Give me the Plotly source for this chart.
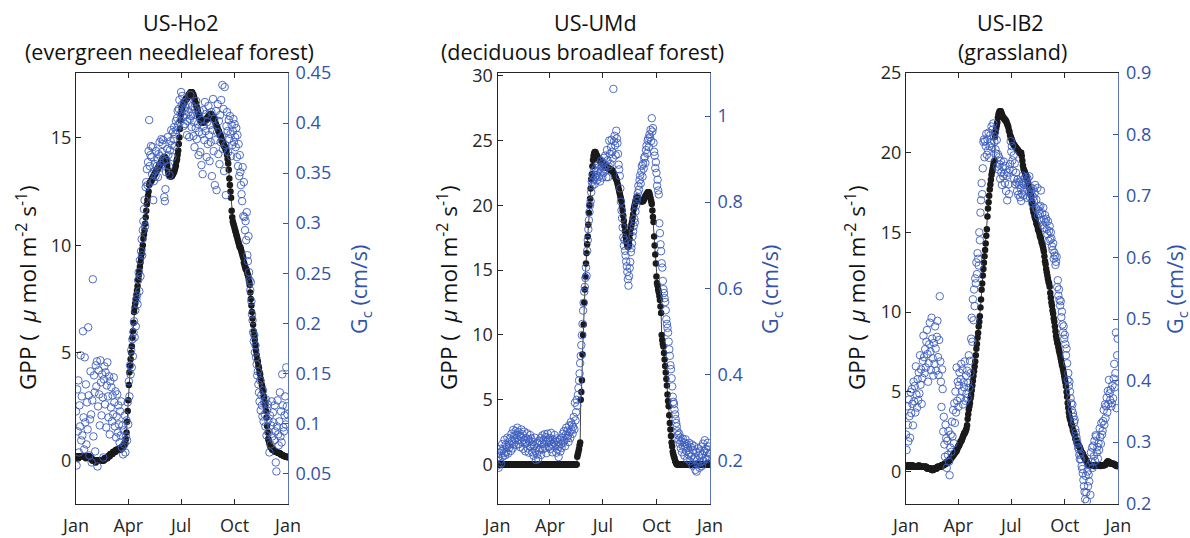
import plotly.graph_objects as go

# ---------------- data (day of year 0..364) ----------------
MONTH_TICKS = [0, 90, 181, 273, 365]
MONTH_LABELS = ["Jan", "Apr", "Jul", "Oct", "Jan"]

SITE_NAMES = ["US-Ho2", "US-UMd", "US-IB2"]
SITE_TYPES = ["(evergreen needleleaf forest)", "(deciduous broadleaf forest)", "(grassland)"]

gpp_ho2 = [
    0.2,0.2,0.2,0.1,0.1,0.2,0.2,0.2,0.2,0.2,
    0.2,0.2,0.2,0.2,0.2,0.2,0.2,0.1,0.2,0.2,
    0.2,0.2,0.2,0.2,0.1,0.1,0.1,0.1,0.0,0.0,
    0.0,0.0,0.0,0.0,-0.1,0.0,0.0,0.0,0.0,0.0,
    0.0,0.0,0.0,0.0,0.0,0.0,0.0,0.0,0.0,0.1,
    0.1,0.1,0.1,0.1,0.1,0.2,0.2,0.2,0.2,0.3,
    0.3,0.3,0.3,0.3,0.4,0.4,0.4,0.4,0.4,0.5,
    0.5,0.5,0.5,0.5,0.5,0.5,0.5,0.5,0.6,0.6,
    0.6,0.6,0.7,0.7,0.8,0.8,1.0,1.3,1.8,2.3,
    2.8,3.5,4.1,4.4,4.7,5.0,5.3,5.7,6.0,6.4,
    6.9,7.1,7.3,7.5,7.7,7.9,8.1,8.4,8.6,8.8,
    9.0,9.2,9.4,9.6,9.8,10.0,10.3,10.5,10.7,11.0,
    11.3,11.6,11.9,12.1,12.3,12.5,12.8,12.9,12.9,13.0,
    13.0,13.1,13.1,13.2,13.2,13.3,13.3,13.4,13.4,13.5,
    13.5,13.6,13.6,13.7,13.7,13.8,13.8,13.9,13.9,14.0,
    14.0,14.0,14.1,14.1,14.0,14.0,13.9,13.7,13.5,13.4,
    13.3,13.2,13.2,13.2,13.2,13.2,13.3,13.3,13.4,13.4,
    13.5,13.6,13.7,13.9,14.0,14.2,14.4,14.7,15.0,15.4,
    15.8,16.1,16.3,16.4,16.5,16.6,16.6,16.7,16.7,16.8,
    16.8,16.8,16.9,16.9,17.0,17.0,17.0,17.1,17.1,17.1,
    17.1,17.0,17.0,16.9,16.8,16.7,16.6,16.5,16.4,16.3,
    16.2,16.1,16.0,15.9,15.8,15.8,15.7,15.7,15.7,15.7,
    15.7,15.8,15.8,15.8,15.8,15.9,15.9,15.9,16.0,16.0,
    16.0,16.1,16.1,16.1,16.0,16.0,16.0,15.9,15.9,15.8,
    15.7,15.6,15.5,15.5,15.4,15.3,15.3,15.2,15.1,15.1,
    15.0,14.9,14.8,14.8,14.7,14.6,14.6,14.5,14.4,14.4,
    14.2,14.0,13.8,13.5,13.1,12.8,12.5,12.2,11.6,11.3,
    11.1,11.0,10.9,10.8,10.7,10.6,10.5,10.4,10.3,10.2,
    10.1,10.0,9.9,9.9,9.8,9.7,9.6,9.5,9.4,9.2,
    9.1,9.0,8.9,8.9,8.8,8.7,8.6,8.5,8.3,8.15,
    7.8,7.5,7.2,6.9,6.6,6.3,6.0,5.8,5.6,5.35,
    5.1,4.9,4.7,4.6,4.4,4.3,4.1,4.0,3.8,3.7,
    3.5,3.4,3.2,3.0,2.9,2.7,2.56,2.3,2.0,1.6,
    1.3,1.0,0.9,0.8,0.7,0.62,0.6,0.55,0.5,0.5,
    0.5,0.45,0.45,0.4,0.4,0.39,0.38,0.37,0.36,0.35,
    0.34,0.33,0.3,0.28,0.26,0.25,0.24,0.22,0.21,0.2,
    0.2,0.18,0.17,0.16,0.15,
]

gc_ho2 = [
    0.112,0.058,0.134,0.092,0.143,0.071,0.118,0.097,0.168,0.083,
    0.127,0.088,0.192,0.106,0.074,0.166,0.101,0.139,0.079,0.121,
    0.094,0.196,0.128,0.068,0.104,0.152,0.109,0.061,0.123,0.244,
    0.087,0.148,0.131,0.072,0.158,0.137,0.162,0.057,0.117,0.153,
    0.129,0.098,0.163,0.141,0.108,0.149,0.126,0.066,0.144,0.157,
    0.119,0.151,0.096,0.138,0.161,0.127,0.106,0.147,0.089,0.142,
    0.116,0.136,0.102,0.128,0.109,0.146,0.121,0.097,0.132,0.086,
    0.107,0.129,0.091,0.118,0.099,0.081,0.112,0.088,0.122,0.076,
    0.098,0.069,0.093,0.079,0.108,0.071,0.087,0.103,0.083,0.121,
    0.099,0.142,0.127,0.158,0.149,0.173,0.156,0.184,0.167,0.191,
    0.202,0.186,0.213,0.197,0.224,0.228,0.219,0.243,0.251,0.232,
    0.263,0.247,0.272,0.284,0.268,0.293,0.302,0.314,0.323,0.297,
    0.336,0.341,0.354,0.338,0.361,0.372,0.403,0.357,0.368,0.377,
    0.366,0.349,0.376,0.323,0.342,0.352,0.359,0.347,0.372,0.357,
    0.364,0.346,0.369,0.355,0.381,0.367,0.358,0.384,0.371,0.379,
    0.383,0.362,0.326,0.322,0.334,0.351,0.363,0.374,0.386,0.368,
    0.357,0.348,0.373,0.382,0.393,0.378,0.366,0.391,0.384,0.396,
    0.377,0.389,0.402,0.393,0.405,0.412,0.398,0.414,0.423,0.401,
    0.409,0.431,0.418,0.427,0.406,0.397,0.421,0.413,0.399,0.416,
    0.408,0.388,0.402,0.419,0.411,0.386,0.404,0.428,0.407,0.396,
    0.417,0.409,0.387,0.401,0.376,0.414,0.395,0.422,0.384,0.408,
    0.399,0.368,0.391,0.412,0.371,0.403,0.358,0.389,0.349,0.413,
    0.397,0.383,0.421,0.392,0.409,0.366,0.401,0.379,0.417,0.388,
    0.362,0.398,0.381,0.411,0.347,0.393,0.424,0.372,0.404,0.338,
    0.383,0.412,0.333,0.391,0.419,0.369,0.402,0.359,0.408,0.381,
    0.423,0.387,0.438,0.374,0.414,0.352,0.436,0.378,0.328,0.397,
    0.411,0.392,0.371,0.403,0.384,0.407,0.389,0.367,0.398,0.378,
    0.392,0.404,0.381,0.399,0.386,0.376,0.395,0.366,0.388,0.357,
    0.379,0.347,0.368,0.351,0.338,0.329,0.322,0.356,0.307,0.341,
    0.306,0.293,0.302,0.283,0.311,0.268,0.262,0.287,0.251,0.243,
    0.233,0.241,0.222,0.209,0.203,0.191,0.182,0.188,0.171,0.178,
    0.166,0.159,0.148,0.152,0.139,0.131,0.122,0.143,0.113,0.128,
    0.118,0.107,0.133,0.102,0.121,0.109,0.097,0.124,0.088,0.113,
    0.119,0.103,0.091,0.071,0.108,0.079,0.098,0.122,0.087,0.111,
    0.101,0.083,0.118,0.092,0.061,0.052,0.097,0.123,0.089,0.078,
    0.102,0.131,0.087,0.112,0.081,0.149,0.118,0.096,0.092,0.108,
    0.127,0.099,0.156,0.117,0.109,
]

gpp_umd = [0.0] * 130 + [
    0.0,0.0,0.0,0.0,0.0,0.0,0.0,0.6,0.8,1.0,
    1.2,1.5,1.7,5.0,5.6,6.5,8.5,10.0,10.8,12.5,
    13.5,14.5,15.5,16.3,17.0,17.6,18.5,19.4,20.0,20.5,
    21.3,22.0,22.4,23.0,23.5,23.8,24.0,24.1,24.1,24.0,
    23.9,23.8,23.7,23.6,23.5,23.5,23.4,23.4,23.3,23.3,
    23.2,23.2,23.1,23.1,23.0,23.0,23.0,22.9,22.9,22.9,
    22.9,22.8,22.8,22.8,22.7,22.7,22.7,22.7,22.6,22.5,
    22.4,22.3,22.2,22.1,22.0,21.9,21.7,21.5,21.3,21.1,
    20.9,20.7,20.5,20.3,19.9,19.6,19.2,18.8,18.4,18.0,
    17.6,17.3,17.1,16.9,16.8,16.8,17.0,17.4,17.8,18.2,
    18.5,18.7,19.0,19.3,19.7,19.9,20.1,20.3,20.5,20.6,
    20.6,20.5,20.5,20.4,20.4,20.4,20.3,20.3,20.3,20.3,
    20.3,20.4,20.5,20.6,20.7,20.8,20.8,20.9,21.0,21.0,
    21.0,20.9,20.7,20.5,20.3,20.1,19.6,19.1,18.7,17.6,
    16.9,16.2,15.5,14.5,14.0,13.8,13.5,13.3,13.0,12.7,
    12.2,11.7,10.0,9.6,9.3,9.1,8.6,8.1,7.6,7.1,
    6.6,6.1,5.4,4.9,4.5,3.8,3.2,2.7,2.2,1.7,
    1.4,1.0,0.8,0.6,0.5,0.3,0.2,0.1,0.0,0.0,
] + [0.0] * 55

gc_umd = [
    0.188,0.207,0.183,0.218,0.199,0.227,0.193,0.221,0.238,0.209,
    0.226,0.217,0.248,0.212,0.236,0.219,0.231,0.253,0.216,0.242,
    0.229,0.251,0.237,0.222,0.262,0.246,0.228,0.271,0.239,0.258,
    0.249,0.268,0.236,0.259,0.276,0.247,0.266,0.238,0.257,0.231,
    0.254,0.272,0.243,0.261,0.227,0.248,0.267,0.239,0.221,0.252,
    0.241,0.263,0.228,0.249,0.218,0.244,0.259,0.232,0.251,0.237,
    0.219,0.243,0.211,0.234,0.253,0.222,0.201,0.229,0.214,0.241,
    0.204,0.223,0.246,0.228,0.252,0.213,0.239,0.258,0.226,0.247,
    0.238,0.261,0.229,0.254,0.217,0.243,0.262,0.248,0.231,0.244,
    0.252,0.227,0.264,0.239,0.219,0.248,0.233,0.242,0.259,0.246,
    0.237,0.218,0.251,0.226,0.243,0.208,0.232,0.249,0.221,0.238,
    0.229,0.253,0.262,0.241,0.268,0.247,0.233,0.259,0.276,0.251,
    0.269,0.257,0.243,0.281,0.266,0.252,0.289,0.271,0.283,0.262,
    0.278,0.301,0.272,0.334,0.293,0.312,0.341,0.327,0.352,0.368,
    0.386,0.402,0.426,0.443,0.468,0.491,0.517,0.548,0.566,0.592,
    0.603,0.624,0.648,0.629,0.687,0.712,0.737,0.758,0.777,0.793,
    0.802,0.823,0.847,0.838,0.861,0.852,0.873,0.842,0.858,0.879,
    0.863,0.851,0.872,0.887,0.859,0.876,0.848,0.869,0.896,0.882,
    0.857,0.891,0.868,0.903,0.877,0.908,0.886,0.858,0.921,0.897,
    0.858,0.883,0.943,0.912,0.889,0.928,0.945,0.917,0.902,1.063,
    0.941,0.954,0.932,0.909,0.966,0.948,0.937,0.912,0.887,0.876,
    0.861,0.832,0.801,0.781,0.763,0.741,0.718,0.699,0.712,0.687,
    0.676,0.662,0.651,0.638,0.621,0.606,0.628,0.647,0.661,0.684,
    0.693,0.704,0.721,0.732,0.744,0.761,0.753,0.778,0.792,0.803,
    0.812,0.821,0.838,0.829,0.851,0.862,0.843,0.871,0.884,0.859,
    0.889,0.878,0.902,0.906,0.891,0.921,0.931,0.913,0.943,0.948,
    0.928,0.957,0.951,0.968,0.942,0.995,0.964,0.972,0.938,0.917,
    0.908,0.879,0.893,0.868,0.838,0.852,0.827,0.818,0.751,0.728,
    0.702,0.686,0.658,0.648,0.617,0.598,0.589,0.577,0.568,0.549,
    0.528,0.517,0.508,0.497,0.476,0.458,0.443,0.421,0.412,0.391,
    0.372,0.348,0.336,0.331,0.318,0.307,0.296,0.287,0.279,0.268,
    0.259,0.248,0.262,0.239,0.253,0.228,0.244,0.219,0.251,0.232,
    0.242,0.211,0.234,0.249,0.222,0.238,0.203,0.229,0.214,0.241,
    0.218,0.198,0.231,0.209,0.237,0.188,0.224,0.202,0.233,0.207,
    0.178,0.219,0.174,0.201,0.192,0.228,0.211,0.183,0.221,0.196,
    0.232,0.187,0.213,0.239,0.199,0.222,0.247,0.206,0.227,0.203,
    0.218,0.241,0.209,0.232,0.216,
]

gpp_ib2 = [
    0.3,0.3,0.3,0.4,0.4,0.3,0.3,0.3,0.4,0.4,
    0.4,0.4,0.3,0.3,0.3,0.3,0.3,0.3,0.3,0.3,
    0.3,0.3,0.4,0.3,0.3,0.3,0.3,0.3,0.3,0.3,
    0.3,0.3,0.3,0.3,0.3,0.3,0.2,0.2,0.2,0.2,
    0.2,0.2,0.2,0.2,0.1,0.1,0.1,0.1,0.2,0.2,
    0.2,0.2,0.2,0.2,0.3,0.3,0.3,0.3,0.3,0.3,
    0.3,0.4,0.4,0.4,0.4,0.4,0.5,0.5,0.5,0.5,
    0.6,0.6,0.6,0.7,0.7,0.7,0.8,0.8,0.9,0.9,
    1.0,1.0,1.1,1.1,1.2,1.2,1.3,1.3,1.4,1.5,
    1.6,1.6,1.7,1.8,1.9,1.9,2.0,2.1,2.2,2.3,
    2.4,2.4,2.5,2.6,2.7,2.9,3.3,3.6,3.9,4.1,
    4.3,4.6,4.8,5.1,5.4,5.7,6.0,6.3,6.6,6.9,
    7.3,7.7,8.0,8.4,8.7,9.1,9.4,9.75,10.3,10.8,
    11.4,11.8,12.3,12.7,13.1,13.5,13.9,14.3,14.8,15.2,
    16.0,16.5,16.9,17.3,17.7,18.0,18.3,18.6,18.8,19.0,
    19.2,19.4,19.5,21.0,21.3,21.5,21.7,21.9,22.2,22.4,
    22.5,22.6,22.6,22.6,22.5,22.4,22.3,22.2,22.2,22.1,
    22.1,22.0,22.0,21.9,21.8,21.7,21.6,21.4,21.3,21.1,
    21.0,20.9,20.8,20.7,20.6,20.5,20.5,20.4,20.4,20.3,
    20.3,20.2,20.2,20.1,20.1,20.0,20.0,20.0,20.0,19.8,
    19.5,19.2,19.0,18.9,18.8,18.7,18.6,18.5,18.3,18.2,
    18.1,17.9,17.8,17.6,17.4,17.3,17.0,16.8,16.5,16.3,
    16.2,16.0,15.9,15.8,15.6,15.5,15.4,15.2,15.1,15.0,
    14.8,14.7,14.6,14.4,14.3,14.15,14.0,13.8,13.5,13.2,
    13.0,12.7,12.5,12.3,12.1,11.9,11.8,11.6,11.2,10.9,
    10.6,10.4,10.1,9.9,9.6,9.4,9.1,8.8,8.5,8.3,
    8.1,8.0,7.8,7.6,7.45,7.3,7.1,6.9,6.7,6.6,
    6.4,6.2,6.0,5.8,5.6,5.35,5.0,4.7,4.3,4.0,
    3.7,3.46,3.3,3.2,3.0,2.9,2.8,2.6,2.5,2.4,
    2.3,2.1,2.0,1.9,1.8,1.8,1.7,1.6,1.57,1.5,
    1.4,1.3,1.2,1.16,1.1,1.0,0.9,0.9,0.8,0.74,
    0.7,0.6,0.5,0.5,0.42,0.4,0.4,0.4,0.4,0.4,
    0.4,0.4,0.4,0.35,0.35,0.35,0.4,0.4,0.4,0.4,
    0.4,0.4,0.4,0.4,0.35,0.4,0.4,0.4,0.4,0.4,
    0.4,0.4,0.42,0.45,0.5,0.55,0.6,0.65,0.6,0.6,
    0.55,0.55,0.5,0.5,0.5,0.5,0.5,0.5,0.45,0.45,
    0.4,0.4,0.35,0.35,0.35,
]

gc_ib2 = [
    0.312,0.287,0.358,0.328,0.301,0.369,0.342,0.307,0.381,0.347,
    0.386,0.362,0.327,0.398,0.366,0.391,0.348,0.423,0.377,0.356,
    0.402,0.368,0.413,0.379,0.441,0.393,0.418,0.362,0.404,0.432,
    0.473,0.438,0.412,0.451,0.421,0.463,0.482,0.443,0.398,0.428,
    0.459,0.494,0.447,0.417,0.502,0.468,0.436,0.408,0.461,0.427,
    0.488,0.452,0.416,0.471,0.497,0.438,0.409,0.466,0.537,0.431,
    0.398,0.357,0.418,0.386,0.317,0.341,0.296,0.276,0.328,0.306,
    0.258,0.302,0.279,0.318,0.268,0.246,0.291,0.312,0.284,0.333,
    0.309,0.352,0.298,0.363,0.331,0.382,0.348,0.421,0.367,0.398,
    0.357,0.392,0.413,0.371,0.402,0.427,0.383,0.418,0.361,0.397,
    0.389,0.431,0.367,0.408,0.379,0.416,0.372,0.396,0.441,0.388,
    0.432,0.412,0.468,0.502,0.463,0.532,0.498,0.548,0.521,0.566,
    0.558,0.592,0.573,0.607,0.598,0.587,0.641,0.628,0.673,0.693,
    0.721,0.703,0.745,0.788,0.792,0.763,0.789,0.781,0.801,0.767,
    0.792,0.774,0.803,0.762,0.781,0.799,0.786,0.813,0.779,0.808,
    0.818,0.797,0.788,0.803,0.776,0.769,0.791,0.748,0.768,0.743,
    0.763,0.751,0.728,0.757,0.738,0.718,0.747,0.732,0.756,0.736,
    0.721,0.749,0.708,0.733,0.693,0.738,0.719,0.703,0.743,0.752,
    0.789,0.772,0.781,0.758,0.741,0.766,0.728,0.753,0.719,0.738,
    0.722,0.708,0.727,0.702,0.718,0.723,0.698,0.713,0.692,0.704,
    0.721,0.733,0.701,0.718,0.729,0.709,0.724,0.731,0.697,0.728,
    0.717,0.706,0.732,0.698,0.714,0.709,0.703,0.688,0.712,0.698,
    0.692,0.704,0.718,0.681,0.694,0.678,0.713,0.668,0.683,0.676,
    0.671,0.684,0.709,0.661,0.672,0.653,0.681,0.662,0.648,0.669,
    0.657,0.663,0.646,0.638,0.659,0.627,0.643,0.651,0.629,0.641,
    0.631,0.618,0.612,0.623,0.598,0.608,0.603,0.588,0.593,0.601,
    0.552,0.563,0.538,0.548,0.531,0.522,0.529,0.503,0.512,0.491,
    0.478,0.488,0.468,0.474,0.459,0.441,0.452,0.428,0.401,0.412,
    0.391,0.398,0.382,0.371,0.363,0.352,0.361,0.347,0.341,0.332,
    0.336,0.321,0.315,0.308,0.302,0.297,0.291,0.288,0.279,0.272,
    0.281,0.272,0.261,0.256,0.249,0.238,0.228,0.219,0.207,0.245,
    0.218,0.204,0.252,0.228,0.247,0.236,0.262,0.214,0.283,0.268,
    0.291,0.258,0.294,0.277,0.302,0.269,0.311,0.309,0.283,0.292,
    0.273,0.298,0.287,0.322,0.308,0.297,0.331,0.312,0.318,0.334,
    0.352,0.328,0.361,0.339,0.358,0.372,0.348,0.383,0.362,0.401,
    0.379,0.368,0.385,0.358,0.363,0.392,0.371,0.403,0.427,0.389,
    0.412,0.478,0.355,0.441,0.468,
]

GPP_SERIES = [gpp_ho2, gpp_umd, gpp_ib2]
GC_SERIES = [gc_ho2, gc_umd, gc_ib2]

LEFT_RANGES = [[-2, 18], [-3, 30.2], [-2, 25]]
LEFT_TICKS = [[0, 5, 10, 15], [0, 5, 10, 15, 20, 25, 30], [0, 5, 10, 15, 20, 25]]
RIGHT_RANGES = [[0.02, 0.45], [0.1, 1.1], [0.2, 0.9]]
RIGHT_TICKS = [[0.05, 0.1, 0.15, 0.2, 0.25, 0.3, 0.35, 0.4, 0.45],
               [0.2, 0.4, 0.6, 0.8, 1.0],
               [0.2, 0.3, 0.4, 0.5, 0.6, 0.7, 0.8, 0.9]]
RIGHT_TICKTEXT = [["0.05", "0.1", "0.15", "0.2", "0.25", "0.3", "0.35", "0.4", "0.45"],
                  ["0.2", "0.4", "0.6", "0.8", "1"],
                  ["0.2", "0.3", "0.4", "0.5", "0.6", "0.7", "0.8", "0.9"]]

# ---------------- layout geometry (pixels) ----------------
W, H = 1190, 538
BOX_X = [(76, 288), (497.5, 710), (906, 1118.3)]
BOX_Y = (73, 503.5)
TITLE1_X = [181, 595, 1010]
TITLE2_X = [169, 582, 1012]
LEFT_LABEL_X = [26, 447, 855]
RIGHT_LABEL_X = [360, 771, 1176]

DARK = "#262626"
BLUE_TXT = "#3352a8"
BLUE_MK = "#3d5ebd"
FONT = "Open Sans"


def fx(p):
    return p / W


def fy(p):
    return 1 - p / H


fig = go.Figure()
layout = dict(
    width=W, height=H, margin=dict(l=0, r=0, t=0, b=0, pad=0, autoexpand=False),
    paper_bgcolor="white", plot_bgcolor="white", showlegend=False,
    font=dict(family=FONT, size=18, color=DARK),
)
annotations = []

for i in range(3):
    k = i + 1
    xname = "x" if k == 1 else f"x{k}"
    yl = f"y{2 * k - 1}" if (2 * k - 1) > 1 else "y"
    yr = f"y{2 * k}"
    days_g = list(range(len(GPP_SERIES[i])))
    days_c = list(range(len(GC_SERIES[i])))

    fig.add_trace(go.Scatter(
        x=days_g, y=GPP_SERIES[i], xaxis=xname, yaxis=yl,
        mode="lines+markers",
        line=dict(color="#111111", width=0.8),
        marker=dict(size=6.5, color="#1a1a1a", line=dict(width=0)),
        hoverinfo="skip",
    ))
    fig.add_trace(go.Scatter(
        x=days_c, y=GC_SERIES[i], xaxis=xname, yaxis=yr,
        mode="markers",
        marker=dict(symbol="circle-open", size=7.5, color=BLUE_MK, line=dict(width=0.9)),
        hoverinfo="skip",
    ))

    xkey = "xaxis" if k == 1 else f"xaxis{k}"
    ylkey = "yaxis" if (2 * k - 1) == 1 else f"yaxis{2 * k - 1}"
    yrkey = f"yaxis{2 * k}"
    xd = [fx(BOX_X[i][0]), fx(BOX_X[i][1])]
    yd = [fy(BOX_Y[1]), fy(BOX_Y[0])]

    layout[xkey] = dict(
        domain=xd, anchor=yl, range=[0, 365], automargin=False,
        tickmode="array", tickvals=MONTH_TICKS, ticktext=MONTH_LABELS,
        ticks="inside", ticklen=5, tickcolor=DARK, tickwidth=1,
        showline=True, linecolor=DARK, linewidth=1, mirror="ticks",
        showgrid=False, zeroline=False, ticklabelstandoff=6,
        tickfont=dict(family=FONT, size=18, color=DARK),
    )
    layout[ylkey] = dict(
        domain=yd, anchor=xname, range=LEFT_RANGES[i], automargin=False,
        tickmode="array", tickvals=LEFT_TICKS[i],
        ticks="inside", ticklen=5, tickcolor=DARK, tickwidth=1,
        showline=True, linecolor=DARK, linewidth=1,
        showgrid=False, zeroline=False, ticklabelstandoff=0,
        tickfont=dict(family=FONT, size=18, color=DARK),
    )
    layout[yrkey] = dict(
        domain=yd, anchor=xname, overlaying=yl, side="right",
        range=RIGHT_RANGES[i], automargin=False,
        tickmode="array", tickvals=RIGHT_TICKS[i], ticktext=RIGHT_TICKTEXT[i],
        ticks="inside", ticklen=5, tickcolor=BLUE_TXT, tickwidth=1,
        showline=True, linecolor="#5a74c0", linewidth=1,
        showgrid=False, zeroline=False, ticklabelstandoff=3,
        tickfont=dict(family=FONT, size=18, color=BLUE_TXT),
    )

    annotations.append(dict(
        text=SITE_NAMES[i], x=fx(TITLE1_X[i]), y=fy(23), xref="paper", yref="paper",
        xanchor="center", yanchor="middle", showarrow=False,
        font=dict(family=FONT, size=21.5, color="#111111"),
    ))
    annotations.append(dict(
        text=SITE_TYPES[i], x=fx(TITLE2_X[i]), y=fy(52), xref="paper", yref="paper",
        xanchor="center", yanchor="middle", showarrow=False,
        font=dict(family=FONT, size=21.5, color="#111111"),
    ))
    annotations.append(dict(
        text="GPP (  <i>μ</i> mol m<sup>-2</sup> s<sup>-1</sup>)",
        x=fx(LEFT_LABEL_X[i]), y=fy(288), xref="paper", yref="paper",
        xanchor="center", yanchor="middle", textangle=-90, showarrow=False,
        font=dict(family=FONT, size=22.5, color="#111111"),
    ))
    annotations.append(dict(
        text="G<sub>c</sub> (cm/s)",
        x=fx(RIGHT_LABEL_X[i]), y=fy(290), xref="paper", yref="paper",
        xanchor="center", yanchor="middle", textangle=-90, showarrow=False,
        font=dict(family=FONT, size=21.5, color=BLUE_TXT),
    ))

layout["annotations"] = annotations
fig.update_layout(**layout)
fig.write_html("out.html")
